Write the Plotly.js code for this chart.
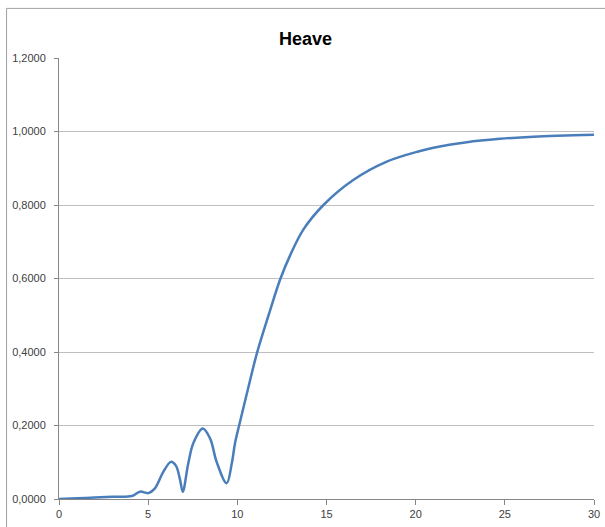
<!DOCTYPE html>
<html>
<head>
<meta charset="utf-8">
<script src="https://cdn.plot.ly/plotly-3.0.1.min.js"></script>
<style>html,body{margin:0;padding:0;background:#fff;}#chart{width:605px;height:527px;}</style>
</head>
<body>
<div id="chart"></div>
<script>
const chartTitle = "Heave";
const xValues = [0, 1, 2, 3, 4.08, 4.54, 5.01, 5.38, 5.85, 6.28, 6.56, 6.79, 6.94, 7.25, 7.53, 8.06, 8.47, 8.84, 9.4, 9.69, 9.87, 10.1, 10.6, 11.1, 11.75, 12.42, 12.96, 13.7, 14.83, 16.5, 18.38, 20.25, 21.0, 22.87, 24.73, 26.6, 30];
const heave   = [0, 0.002, 0.004, 0.006, 0.008, 0.020, 0.016, 0.029, 0.074, 0.101, 0.090, 0.052, 0.020, 0.097, 0.152, 0.192, 0.165, 0.101, 0.043, 0.097, 0.152, 0.200, 0.300, 0.397, 0.500, 0.600, 0.663, 0.733, 0.800, 0.868, 0.918, 0.947, 0.956, 0.971, 0.980, 0.986, 0.991];
const xTicks = [0, 5, 10, 15, 20, 25, 30];
const yTicks = [0, 0.2, 0.4, 0.6, 0.8, 1.0, 1.2];

const trace = {
  x: xValues, y: heave, type: 'scatter', mode: 'lines',
  line: {color: '#4a7ebb', width: 2.5, shape: 'spline', smoothing: 1},
  hoverinfo: 'skip'
};
const fontFam = '"Liberation Sans", Arial, sans-serif';
const layout = {
  width: 605, height: 527,
  margin: {l: 59, r: 11, t: 58, b: 28},
  paper_bgcolor: '#ffffff', plot_bgcolor: '#ffffff',
  separators: ',.',
  showlegend: false,
  title: {text: '<b>' + chartTitle + '</b>', x: 0.505, xanchor: 'center', y: 0.927, yanchor: 'middle',
          font: {family: fontFam, size: 18, color: '#000000'}},
  xaxis: {
    range: [0, 30], tickvals: xTicks, ticktext: xTicks.map(String),
    showgrid: false, zeroline: false, showline: true, linecolor: '#868686', linewidth: 1,
    ticks: 'outside', ticklen: 5, tickcolor: '#868686',
    tickfont: {family: fontFam, size: 11, color: '#404040'}
  },
  yaxis: {
    range: [0, 1.2], tickvals: yTicks, tickformat: '.4f',
    showgrid: true, gridcolor: '#bfbfbf', gridwidth: 1,
    zeroline: false, showline: true, linecolor: '#868686', linewidth: 1,
    ticks: 'outside', ticklen: 4, tickcolor: '#868686', ticklabelstandoff: 6,
    tickfont: {family: fontFam, size: 11, color: '#404040'}
  },
  shapes: [{
    type: 'rect', xref: 'paper', yref: 'paper',
    x0: -0.098, x1: 1.2, y0: -0.2, y1: 1.1125,
    line: {color: '#a0a0a0', width: 1}, fillcolor: 'rgba(0,0,0,0)', layer: 'below'
  }]
};
Plotly.newPlot('chart', [trace], layout, {staticPlot: true, displayModeBar: false});
</script>
</body>
</html>
